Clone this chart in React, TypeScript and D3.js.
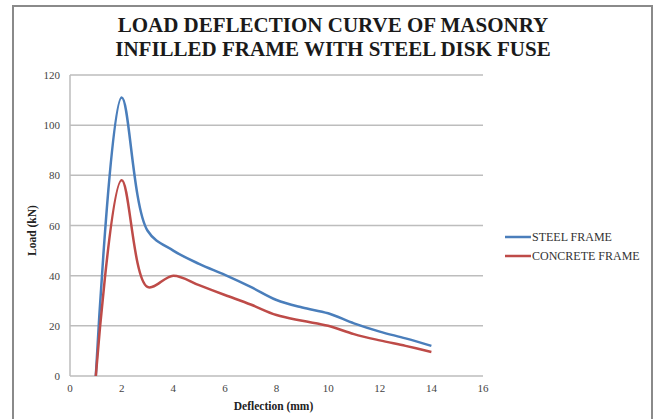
import React, { useEffect, useRef } from 'react';
import * as d3 from 'd3';

// Deflection (mm) values and loads (kN)
const deflection = [1, 2, 3, 4, 5, 6, 7, 8, 9, 10, 11, 12, 13, 14];
const steelLoad = [0, 111, 58, 50, 44.7, 40.3, 35.5, 30.3, 27.3, 25, 21, 17.7, 15, 12];
const concreteLoad = [0, 78, 35.5, 40, 36.2, 32.3, 28.5, 24.3, 22, 20, 16.7, 14.2, 12, 9.6];

const seriesNames = ['STEEL FRAME', 'CONCRETE FRAME'];
const seriesColors = ['#4a7ebb', '#be4b48'];

const xTicks = [0, 2, 4, 6, 8, 10, 12, 14, 16];
const yTicks = [0, 20, 40, 60, 80, 100, 120];

const titleLines = ['LOAD DEFLECTION CURVE OF MASONRY', 'INFILLED FRAME WITH STEEL DISK FUSE'];

const W = 658;
const H = 419;

const App: React.FC = () => {
  const svgRef = useRef<SVGSVGElement>(null);

  useEffect(() => {
    if (!svgRef.current) return;
    const svg = d3.select(svgRef.current);
    svg.selectAll('*').remove();

    const font = '"Liberation Serif", "Times New Roman", serif';

    // Outer frame (bottom edge runs off the page)
    svg.append('path')
      .attr('d', `M13,${H + 5} L13,6 L652,6 L652,${H + 5}`)
      .attr('fill', 'none')
      .attr('stroke', '#8a8a8a')
      .attr('stroke-width', 2);

    // Title
    svg.append('g')
      .selectAll('text')
      .data(titleLines)
      .enter()
      .append('text')
      .attr('x', 333)
      .attr('y', (d, i) => 32 + i * 24)
      .attr('text-anchor', 'middle')
      .attr('font-family', font)
      .attr('font-weight', 'bold')
      .attr('font-size', '21px')
      .attr('fill', '#1a1a1a')
      .text(d => d);

    const plot = { left: 70, right: 483, top: 75, bottom: 376 };

    const xScale = d3.scaleLinear().domain([0, 16]).range([plot.left, plot.right]);
    const yScale = d3.scaleLinear().domain([0, 120]).range([plot.bottom, plot.top]);

    // Gridlines
    svg.append('g')
      .selectAll('line')
      .data(yTicks)
      .enter()
      .append('line')
      .attr('x1', plot.left)
      .attr('x2', plot.right)
      .attr('y1', d => yScale(d))
      .attr('y2', d => yScale(d))
      .attr('stroke', '#bdbdbd')
      .attr('stroke-width', 1.5);

    // Y axis line
    svg.append('line')
      .attr('x1', plot.left)
      .attr('x2', plot.left)
      .attr('y1', plot.top)
      .attr('y2', plot.bottom)
      .attr('stroke', '#bdbdbd')
      .attr('stroke-width', 1.5);

    // Y tick labels
    svg.append('g')
      .selectAll('text')
      .data(yTicks)
      .enter()
      .append('text')
      .attr('x', plot.left - 10)
      .attr('y', d => yScale(d) + 4)
      .attr('text-anchor', 'end')
      .attr('font-family', font)
      .attr('font-size', '11px')
      .attr('fill', '#444')
      .text(d => d);

    // X tick labels
    svg.append('g')
      .selectAll('text')
      .data(xTicks)
      .enter()
      .append('text')
      .attr('x', d => xScale(d))
      .attr('y', plot.bottom + 16)
      .attr('text-anchor', 'middle')
      .attr('font-family', font)
      .attr('font-size', '11px')
      .attr('fill', '#444')
      .text(d => d);

    // Axis titles
    svg.append('text')
      .attr('x', xScale(8) - 3)
      .attr('y', plot.bottom + 34)
      .attr('text-anchor', 'middle')
      .attr('font-family', font)
      .attr('font-weight', 'bold')
      .attr('font-size', '11.5px')
      .attr('fill', '#222')
      .text('Deflection (mm)');

    svg.append('text')
      .attr('transform', `translate(36, ${yScale(58)}) rotate(-90)`)
      .attr('text-anchor', 'middle')
      .attr('font-family', font)
      .attr('font-weight', 'bold')
      .attr('font-size', '11.5px')
      .attr('fill', '#222')
      .text('Load (kN)');

    // Curves
    const line = d3.line<[number, number]>()
      .x(d => xScale(d[0]))
      .y(d => yScale(d[1]))
      .curve(d3.curveCatmullRom.alpha(0.5));

    [steelLoad, concreteLoad].forEach((vals, i) => {
      const pts = deflection.map((x, j) => [x, vals[j]] as [number, number]);
      svg.append('path')
        .datum(pts)
        .attr('fill', 'none')
        .attr('stroke', seriesColors[i])
        .attr('stroke-width', 2.5)
        .attr('stroke-linejoin', 'round')
        .attr('d', line);
    });

    // Legend
    const legend = svg.append('g');
    seriesNames.forEach((name, i) => {
      const y = 237 + i * 19;
      legend.append('line')
        .attr('x1', 505)
        .attr('x2', 531)
        .attr('y1', y)
        .attr('y2', y)
        .attr('stroke', seriesColors[i])
        .attr('stroke-width', 2.5);
      legend.append('text')
        .attr('x', 532)
        .attr('y', y + 4)
        .attr('font-family', font)
        .attr('font-size', '12px')
        .attr('fill', '#333')
        .text(name);
    });
  }, []);

  return (
    <svg ref={svgRef} width={W} height={H} style={{ position: 'absolute', left: 0, top: 0, background: '#fff' }} />
  );
};

export default App;
